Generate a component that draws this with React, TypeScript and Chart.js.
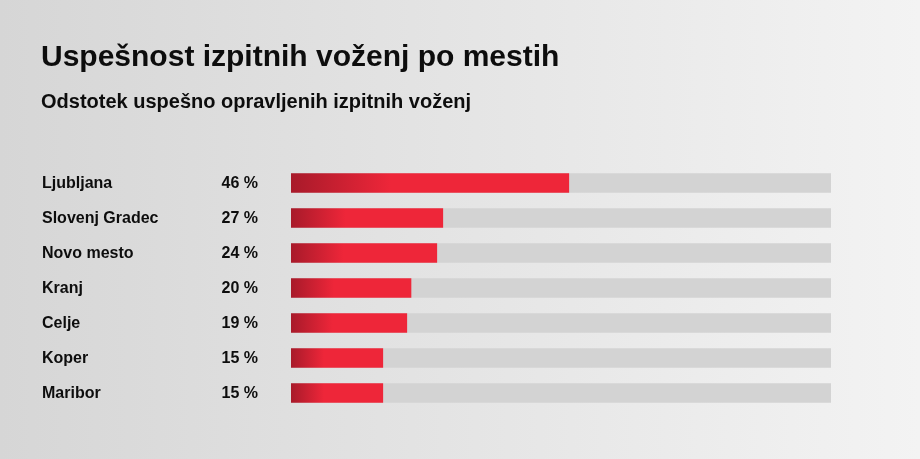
import React, { useEffect, useRef } from "react";
import { Chart, registerables } from "chart.js";

Chart.register(...registerables);

const titleText = "Uspešnost izpitnih voženj po mestih";
const subtitleText = "Odstotek uspešno opravljenih izpitnih voženj";
const cities = ["Ljubljana", "Slovenj Gradec", "Novo mesto", "Kranj", "Celje", "Koper", "Maribor"];
const percentLabels = [46, 27, 24, 20, 19, 15, 15];
const barValues = [46.3, 25.3, 24.3, 20.0, 19.3, 15.3, 15.3];
const scaleMax = 90;
const trackValues = cities.map(() => scaleMax);

const FONT = "'Liberation Sans', Arial, Helvetica, sans-serif";

const textPlugin = {
  id: "textPlugin",
  beforeDraw(chart: any) {
    const { ctx, width, height } = chart;
    ctx.save();
    const g = ctx.createLinearGradient(0, 0, width, 0);
    g.addColorStop(0, "#d6d6d6");
    g.addColorStop(1, "#f3f3f3");
    ctx.fillStyle = g;
    ctx.fillRect(0, 0, width, height);
    ctx.restore();
  },
  afterDraw(chart: any) {
    const { ctx } = chart;
    const y = chart.scales.y;
    ctx.save();
    ctx.fillStyle = "#0d0d0d";
    ctx.textBaseline = "alphabetic";
    ctx.textAlign = "left";
    ctx.font = `bold 30px ${FONT}`;
    ctx.fillText(titleText, 41, 66);
    ctx.font = `bold 20px ${FONT}`;
    ctx.fillText(subtitleText, 41, 108);
    ctx.font = `bold 16px ${FONT}`;
    ctx.textBaseline = "middle";
    cities.forEach((c, i) => {
      const py = y.getPixelForValue(i);
      ctx.textAlign = "left";
      ctx.fillText(c, 42, py + 1);
      ctx.textAlign = "right";
      ctx.fillText(`${percentLabels[i]} %`, 258, py + 1);
    });
    ctx.restore();
  },
};

export default function App() {
  const ref = useRef<HTMLCanvasElement>(null);
  useEffect(() => {
    document.body.style.margin = "0";
    const canvas = ref.current!;
    const chart = new Chart(canvas, {
      type: "bar",
      data: {
        labels: cities,
        datasets: [
          {
            data: barValues,
            order: 0,
            barThickness: 19,
            borderWidth: 0,
            backgroundColor: (context: any) => {
              const ch = context.chart;
              const xs = ch.scales?.x;
              if (!xs || !ch.chartArea) return "#ee2639";
              const v = barValues[context.dataIndex] ?? 0;
              const x0 = xs.getPixelForValue(0);
              const x1 = xs.getPixelForValue(v);
              const gr = ch.ctx.createLinearGradient(x0, 0, x0 + (x1 - x0) * 0.36, 0);
              gr.addColorStop(0, "#a81a2a");
              gr.addColorStop(1, "#ee2639");
              return gr;
            },
          },
          {
            data: trackValues,
            order: 1,
            barThickness: 19,
            borderWidth: 0,
            backgroundColor: "#d3d3d3",
          },
        ],
      },
      options: {
        indexAxis: "y",
        animation: false,
        responsive: false,
        maintainAspectRatio: false,
        datasets: { bar: { grouped: false } } as any,
        layout: { padding: { left: 291, right: 89, top: 165.5, bottom: 48.5 } },
        scales: {
          x: { display: false, min: 0, max: scaleMax },
          y: { display: false },
        },
        plugins: {
          legend: { display: false },
          tooltip: { enabled: false },
          title: { display: false },
        },
      },
      plugins: [textPlugin],
    } as any);
    return () => chart.destroy();
  }, []);
  return <canvas ref={ref} width={920} height={459} style={{ display: "block" }} />;
}
